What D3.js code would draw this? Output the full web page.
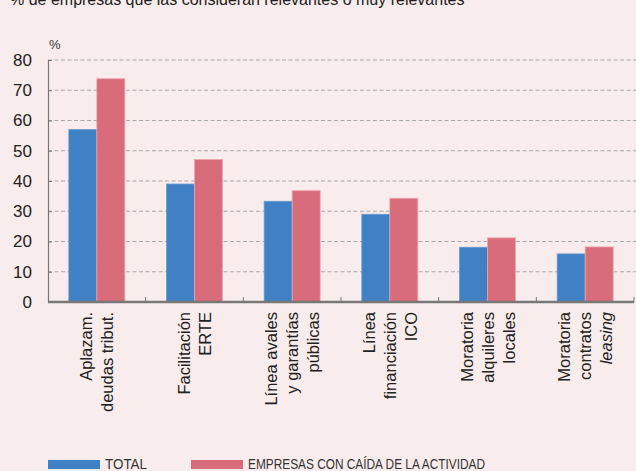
<!DOCTYPE html>
<html>
<head>
<meta charset="utf-8">
<script src="https://cdn.jsdelivr.net/npm/d3@7"></script>
<style>
  body { margin: 0; background: #f9ecec; }
  svg { display: block; font-family: "Liberation Sans", Arial, sans-serif; }
</style>
</head>
<body>
<div id="chart"></div>
<script>
// data
var categories = [
  ["Aplazam.", "deudas tribut."],
  ["Facilitación", "ERTE"],
  ["Línea avales", "y garantías", "públicas"],
  ["Línea", "financiación", "ICO"],
  ["Moratoria", "alquileres", "locales"],
  ["Moratoria", "contratos", "leasing"]
];
var italicLines = ["leasing"];
var seriesNames = ["TOTAL", "EMPRESAS CON CAÍDA DE LA ACTIVIDAD"];
var total = [57, 39, 33.3, 29, 18.1, 15.9];
var caida = [73.8, 47.1, 36.8, 34.3, 21.2, 18.2];
var yTicks = [0, 10, 20, 30, 40, 50, 60, 70, 80];
var colors = ["#4080c4", "#d96c7b"];

// set the dimensions and margins of the graph
var W = 636, H = 471;
var margin = {top: 60, right: 2, bottom: 169, left: 48},
    width = W - margin.left - margin.right,
    height = H - margin.top - margin.bottom;

var svg = d3.select("#chart")
  .append("svg")
    .attr("width", W)
    .attr("height", H);

svg.append("rect").attr("width", W).attr("height", H).attr("fill", "#f9ecec");

// title (cut off at the top in the original)
svg.append("text")
    .attr("x", 10)
    .attr("y", 5)
    .attr("font-size", 16)
    .attr("fill", "#222")
    .text("% de empresas que las consideran relevantes o muy relevantes");

var g = svg.append("g")
    .attr("transform", "translate(" + margin.left + "," + margin.top + ")");

var keys = categories.map(function(d, i) { return i; });

var x = d3.scaleBand()
    .domain(keys)
    .range([0, width])
    .paddingInner(0)
    .paddingOuter(0);

var xSub = d3.scaleBand()
    .domain([0, 1])
    .range([x.bandwidth() / 2 - 28, x.bandwidth() / 2 + 28]);

var y = d3.scaleLinear()
    .domain([0, 80])
    .range([height, 0]);

// dashed grid lines
g.append("g")
  .selectAll("line")
  .data(yTicks.filter(function(d) { return d > 0; }))
  .enter().append("line")
    .attr("x1", 0)
    .attr("x2", width + margin.right)
    .attr("y1", function(d) { return y(d); })
    .attr("y2", function(d) { return y(d); })
    .attr("stroke", "#a9a9a9")
    .attr("stroke-width", 1)
    .attr("stroke-dasharray", "4,2.5");

// Y axis
var yAxis = g.append("g")
    .call(d3.axisLeft(y).tickValues(yTicks).tickSize(-4).tickPadding(16));
yAxis.select(".domain").attr("stroke", "#777").attr("stroke-width", 1.2);
yAxis.selectAll(".tick line").attr("stroke", "#777");
yAxis.selectAll(".tick text")
    .attr("font-size", 17)
    .attr("fill", "#222")
    .attr("font-family", "Liberation Sans, Arial, sans-serif");

// bars
var groups = g.selectAll(".grp")
  .data(keys)
  .enter().append("g")
    .attr("class", "grp")
    .attr("transform", function(d) { return "translate(" + x(d) + ",0)"; });

groups.selectAll("rect")
  .data(function(i) { return [total[i], caida[i]]; })
  .enter().append("rect")
    .attr("x", function(d, j) { return xSub(j); })
    .attr("y", function(d) { return y(d); })
    .attr("width", xSub.bandwidth())
    .attr("height", function(d) { return height - y(d); })
    .attr("fill", function(d, j) { return colors[j]; })
    .attr("stroke", function(d, j) { return j ? "#eda6b0" : "#6a9ad2"; })
    .attr("stroke-width", 0.8);

// X axis with inward ticks between categories
var bounds = d3.range(1, categories.length + 1).map(function(i) { return i * x.step(); });
g.append("g")
  .selectAll("line")
  .data(bounds)
  .enter().append("line")
    .attr("x1", function(d) { return d; })
    .attr("x2", function(d) { return d; })
    .attr("y1", height)
    .attr("y2", height - 5)
    .attr("stroke", "#777");

g.append("line")
    .attr("x1", 0)
    .attr("x2", width)
    .attr("y1", height)
    .attr("y2", height)
    .attr("stroke", "#777")
    .attr("stroke-width", 2.4);

// rotated multi-line category labels
var lineH = 21;
groups.each(function(i) {
  var lines = categories[i];
  var n = lines.length;
  var cx = x.bandwidth() / 2;
  var t = d3.select(this).append("g")
      .attr("transform", "translate(0," + (height + 10) + ")");
  lines.forEach(function(s, k) {
    var bx = cx + (k - (n - 1) / 2) * lineH + 6;
    t.append("text")
        .attr("transform", "translate(" + bx + ",0) rotate(-90)")
        .attr("text-anchor", "end")
        .attr("font-size", 16.5)
        .attr("fill", "#222")
        .attr("font-style", italicLines.indexOf(s) >= 0 ? "italic" : "normal")
        .text(s);
  });
});

// unit label
svg.append("text")
    .attr("x", 49)
    .attr("y", 49)
    .attr("font-size", 13)
    .attr("fill", "#333")
    .text("%");

// legend (condensed text, as in the original)
var legX = [48, 191];
var legW = [42, 237];
seriesNames.forEach(function(name, i) {
  svg.append("rect")
      .attr("x", legX[i])
      .attr("y", 460)
      .attr("width", 52)
      .attr("height", 9)
      .attr("fill", colors[i]);
  svg.append("text")
      .attr("x", legX[i] + 57)
      .attr("y", 468.5)
      .attr("font-size", 14)
      .attr("textLength", legW[i])
      .attr("lengthAdjust", "spacingAndGlyphs")
      .attr("fill", "#333")
      .text(name);
});
</script>
</body>
</html>
